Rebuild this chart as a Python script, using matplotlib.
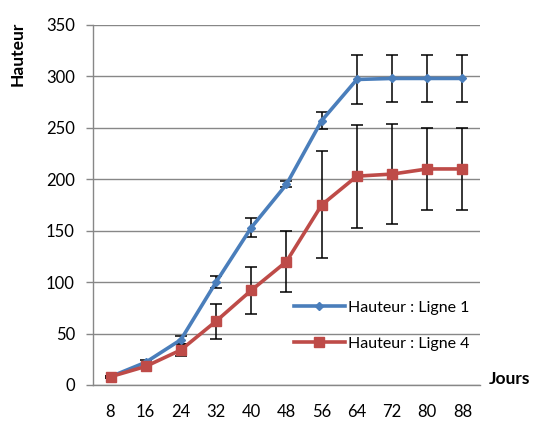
import matplotlib
matplotlib.use("Agg")
import matplotlib.pyplot as plt
import numpy as np

plt.rcParams["font.family"] = ["Lato", "DejaVu Sans"]

jours = ["8", "16", "24", "32", "40", "48", "56", "64", "72", "80", "88"]
ligne1 = [8, 22, 44, 100, 153, 195, 257, 297, 298, 298, 298]
ligne1_err = [1, 2, 4, 6, 9, 3, 8, 24, 23, 23, 23]
ligne4 = [8, 18, 34, 62, 92, 120, 175, 203, 205, 210, 210]
ligne4_err = [1, 2, 6, 17, 23, 30, 52, 50, 49, 40, 40]

grey = "#878787"
blue = "#4A7EBB"
red = "#BE4B48"

fig = plt.figure(figsize=(5.34, 4.23), dpi=100)
ax = fig.add_axes([0.174, 0.09, 0.725, 0.851])

x = np.arange(len(jours))
ax.errorbar(x, ligne1, yerr=ligne1_err, fmt="none", ecolor="black",
            elinewidth=1.1, capsize=4, capthick=1.1, zorder=2)
ax.errorbar(x, ligne4, yerr=ligne4_err, fmt="none", ecolor="black",
            elinewidth=1.1, capsize=4, capthick=1.1, zorder=2)
ax.plot(x, ligne1, color=blue, lw=2.6, marker="D", ms=4.5,
        label="Hauteur : Ligne 1", zorder=3)
ax.plot(x, ligne4, color=red, lw=2.6, marker="s", ms=6.5,
        label="Hauteur : Ligne 4", zorder=3)

ax.set_xlim(-0.5, len(jours) - 0.5)
ax.set_ylim(0, 350)
ax.set_yticks(range(0, 351, 50))
ax.set_xticks(x)
ax.set_xticklabels(jours)

ax.grid(axis="y", color=grey, lw=1.0)
ax.set_axisbelow(True)
for side in ["top", "right"]:
    ax.spines[side].set_visible(False)
for side in ["left", "bottom"]:
    ax.spines[side].set_color(grey)
    ax.spines[side].set_linewidth(1.0)

ax.tick_params(axis="y", length=5, color=grey, width=1.0, labelsize=12, pad=8)
ax.tick_params(axis="x", length=0, labelsize=12, pad=14)

fig.text(18 / 534, 1 - 54 / 423, "Hauteur", rotation=90, ha="center",
         va="center", fontsize=12.5, fontweight="bold")
fig.text(489 / 534, 1 - 379 / 423, "Jours", ha="left", va="center",
         fontsize=12.5, fontweight="bold")

ax.legend(loc="lower right", bbox_to_anchor=(1.01, 0.055), frameon=False,
          fontsize=11.5, handlelength=3.2, handletextpad=0.2,
          labelspacing=1.35)

fig.savefig("out.png", dpi=100)
